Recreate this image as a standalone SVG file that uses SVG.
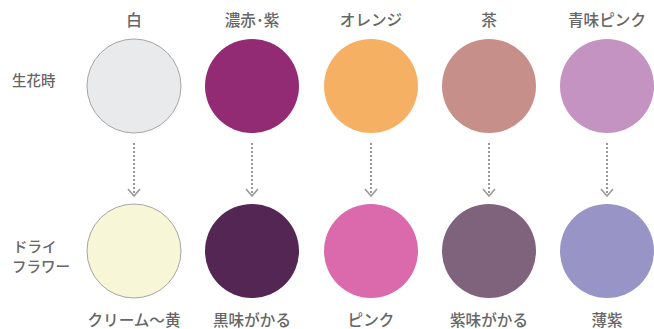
<svg xmlns="http://www.w3.org/2000/svg" width="654" height="329" viewBox="0 0 654 329">
<style>
text{font-family:"Noto Sans CJK JP","Noto Sans",sans-serif;font-size:15.6px;font-weight:500;fill:#666;text-anchor:middle}
text.l{text-anchor:start;font-size:14.5px}
.c{stroke:none}
.w{stroke:#a8a4a4;stroke-width:1}
.ln{stroke:#999;stroke-width:2;stroke-dasharray:2 2;fill:none}
.ah{stroke:#999;stroke-width:1.6;fill:none}
</style>
<rect width="654" height="329" fill="#fff"/>
<g id="row-labels">
<text class="l" x="12" y="86">生花時</text>
<text class="l" x="13" y="252">ドライ</text>
<text class="l" x="12" y="272">フラワー</text>
</g>
<g id="connectors">
<line class="ln" x1="134" y1="143" x2="134" y2="196"/><polyline class="ah" points="128,189 134,196 140,189"/>
<line class="ln" x1="252" y1="143" x2="252" y2="196"/><polyline class="ah" points="246,189 252,196 258,189"/>
<line class="ln" x1="371" y1="143" x2="371" y2="196"/><polyline class="ah" points="365,189 371,196 377,189"/>
<line class="ln" x1="489" y1="143" x2="489" y2="196"/><polyline class="ah" points="483,189 489,196 495,189"/>
<line class="ln" x1="607" y1="143" x2="607" y2="196"/><polyline class="ah" points="601,189 607,196 613,189"/>
</g>
<g id="white">
<text x="134" y="26">白</text>
<circle class="w" cx="134" cy="86" r="47" fill="#e9eaeb"/>
<circle class="w" cx="134" cy="251" r="47" fill="#f7f7d8"/>
<text x="134" y="326">クリーム～黄</text>
</g>
<g id="purple">
<text x="252" y="26">濃赤･紫</text>
<circle class="c" cx="252" cy="86" r="47" fill="#922a74"/>
<circle class="c" cx="252" cy="251" r="47" fill="#542653"/>
<text x="252" y="326">黒味がかる</text>
</g>
<g id="orange">
<text x="371" y="26">オレンジ</text>
<circle class="c" cx="371" cy="86" r="47" fill="#f6b063"/>
<circle class="c" cx="371" cy="251" r="47" fill="#da6aab"/>
<text x="371" y="326">ピンク</text>
</g>
<g id="brown">
<text x="489" y="26">茶</text>
<circle class="c" cx="489" cy="86" r="47" fill="#c68f89"/>
<circle class="c" cx="489" cy="251" r="47" fill="#7f637c"/>
<text x="489" y="326">紫味がかる</text>
</g>
<g id="bluepink">
<text x="607" y="26">青味ピンク</text>
<circle class="c" cx="607" cy="86" r="47" fill="#c493c2"/>
<circle class="c" cx="607" cy="251" r="47" fill="#9894c6"/>
<text x="607" y="326">薄紫</text>
</g>
</svg>
